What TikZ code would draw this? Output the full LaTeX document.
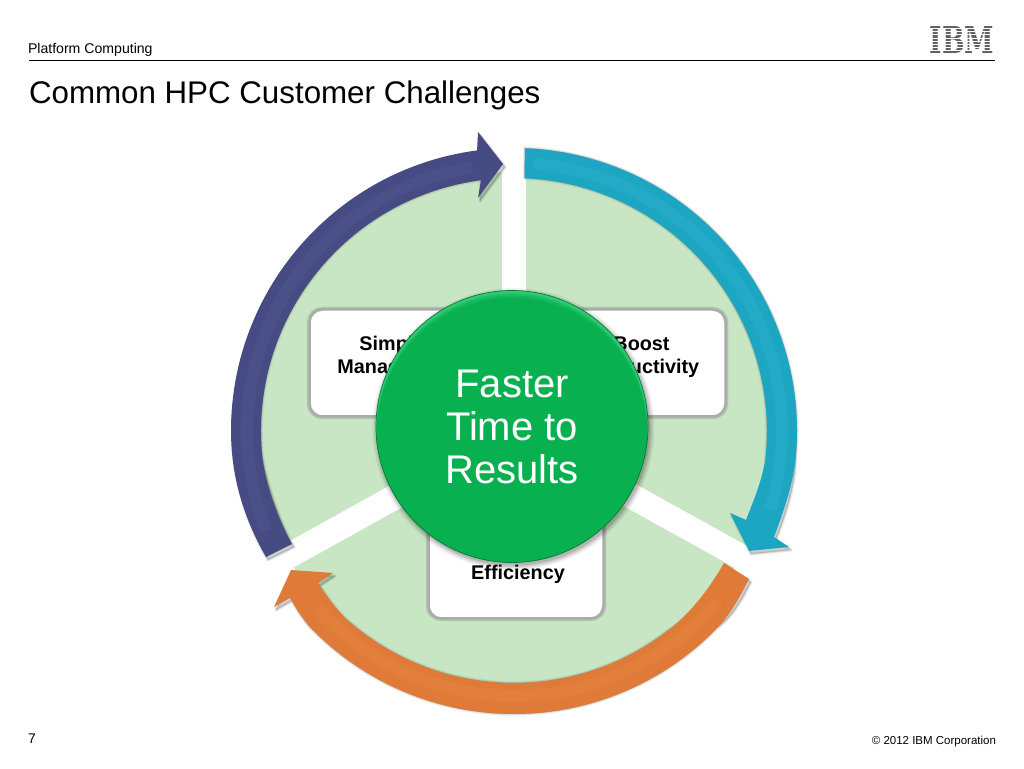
\documentclass[tikz,border=0pt]{standalone}
\usepackage{fontspec}
\usetikzlibrary{calc}
\setmainfont{Liberation Sans}
\newfontfamily\ibmfont{DejaVu Serif}
\definecolor{pie}{HTML}{C8E6C4}
\definecolor{teal1}{HTML}{1CA6C2}
\definecolor{teal2}{HTML}{2CB2CC}
\definecolor{navy1}{HTML}{474B84}
\definecolor{navy2}{HTML}{545991}
\definecolor{orng1}{HTML}{DF7A38}
\definecolor{orng2}{HTML}{E8883F}
\definecolor{hub}{HTML}{08B050}
\definecolor{hubrim}{HTML}{2FCB72}
\newcommand{\fsz}[1]{\fontsize{#1}{#1}\selectfont}
\newcommand{\softshadow}[1]{%
  \foreach \w/\o in {4/.04,2.5/.06,1/.08}{%
    \fill[black,opacity=\o,shift={(2,-3)}] #1;
    \draw[black,opacity=\o,line width=\w pt,line join=round,shift={(2,-3)}] #1;
  }}
\tikzset{
  label text/.style={inner sep=0pt,outer sep=0pt,text=black},
  box text/.style={label text,font=\fsz{19.8}\bfseries,align=center},
  panel/.style={draw=#1,fill=white,rounded corners=13pt,line width=2.5pt,outer sep=0pt,inner sep=0pt,anchor=south west},
  band/.style={line width=12pt,opacity=.4,line cap=butt}
}
\begin{document}
\begin{tikzpicture}[x=1pt,y=1pt]
\useasboundingbox (0,0) rectangle (1024,768);
\fill[white] (0,0) rectangle (1024,768);
\coordinate (C) at (514,337);

% header
\node[label text,anchor=base west,font=\fsz{14.1}] (hdr) at (28,714.5) {Platform Computing};
\node[label text,anchor=base west,font=\fsz{31.3}] (title) at (29,664) {Common HPC Customer Challenges};
\coordinate (ruleL) at (29,707);
\coordinate (ruleR) at (995,707);
\draw[black,line width=1pt] (ruleL) -- (ruleR);
\node[inner sep=0pt,anchor=center,text=black!62,font=\ibmfont\bfseries\fsz{37},xscale=.72] (ibm) at (962,728) {IBM};
\foreach \yy in {717,720.2,723.4,726.6,729.8,733,736.2,739.4}{\draw[white,line width=1pt] (925,\yy) -- (1000,\yy);}

% pie and separators
\fill[pie] (C) circle[radius=259];
\draw[white,line width=24pt] (514,337) -- (514,620);
\draw[white,line width=25pt] (C) -- ++(-29:300);
\draw[white,line width=25pt] (C) -- ++(209:300);

% panels
\foreach \a/\b/\c/\d in {309.5/351.5/479.5/458.5,563/351.5/725.5/458.5,428.5/149.5/603.5/300}{
  \draw[black,opacity=.13,line width=5.5pt,rounded corners=13pt] (\a,\b) rectangle (\c,\d);
}
\node[panel=black!33,minimum width=170pt,minimum height=107pt] (boxL) at (309.5,351.5) {};
\node[panel=black!33,minimum width=162.5pt,minimum height=107pt] (boxR) at (563,351.5) {};
\node[panel=black!33,minimum width=175pt,minimum height=150.5pt] (boxB) at (428.5,149.5) {};
\node[box text,anchor=base] (simp) at (398,417) {Simplify};
\node[box text,anchor=base] (mana) at (398,394) {Management};
\node[box text,anchor=base] (boost) at (641.5,417) {Boost};
\node[box text,anchor=base] (prod) at (642,394) {Productivity};
\node[box text,anchor=base] (effi) at (518,188.5) {Efficiency};

% teal arrow
\def\tealpath{($(C)+(87.8:283)$) arc[start angle=87.8,end angle=-5,radius=283] .. controls (793.5,284.4) and (783.8,257.3) .. (774,231) -- (789,221) -- (749,217) -- (730,255) -- (746,248) .. controls (754.3,269.4) and (764,292) .. ($(C)+(-5:253)$) arc[start angle=-5,end angle=87.6,radius=253] -- cycle}
\softshadow{\tealpath}
\fill[teal1] \tealpath;
\draw[teal2,band] ($(C)+(86:268)$) arc[start angle=86,end angle=-17,radius=268];

% navy arrow
\def\navypath{(266,211) .. controls (243.5,250) and (231,292) .. (231,337) arc[start angle=180,end angle=97.5,radius=283] -- (478,636) -- (503,604) -- (478,570) -- ($(C)+(97.5:253)$) arc[start angle=97.5,end angle=185,radius=253] .. controls (264.6,285) and (279.5,245.7) .. (292,224) -- cycle}
\softshadow{\navypath}
\fill[navy1] \navypath;
\draw[navy2,band] ($(C)+(202:267)$) arc[start angle=202,end angle=99,radius=267];

% orange arrow
\def\orngpath{(749,189) .. controls (740.4,172.1) and (730.8,154.1) .. ($(C)+(-44:283)$) arc[start angle=-44,end angle=-135,radius=283] .. controls (304.3,146.5) and (296.8,158.2) .. (290,170) -- (274,161) -- (291,198) -- (333,195) -- (318,185) .. controls (327.9,170) and (338.2,155.6) .. ($(C)+(-130:252)$) arc[start angle=-130,end angle=-52,radius=252] .. controls (691.9,156.3) and (709.5,179.9) .. (724,205) -- cycle}
\softshadow{\orngpath}
\fill[orng1] \orngpath;
\draw[orng2,band] ($(C)+(-40:265)$) arc[start angle=-40,end angle=-138,radius=265];

% hub
\coordinate (H) at (512,341.5);
\foreach \w/\o in {5/.05,3.5/.07,2/.09,.5/.11}{
  \fill[black,opacity=\o] ($(H)+(1.5,-2.5)$) circle[radius=136+\w];
}
\fill[hubrim] (H) circle[radius=136];
\begin{scope}
  \clip (H) circle[radius=136];
  \fill[hub,opacity=.4] ($(H)+(0,-2)$) circle[radius=135];
  \fill[hub,opacity=.6] ($(H)+(0,-4)$) circle[radius=135];
  \fill[hub] ($(H)+(0,-7)$) circle[radius=135.5];
\end{scope}
\draw[black!30!hub,line width=.7pt] (H) circle[radius=136];
\node[inner sep=0pt,align=center,text=white,font=\fontsize{40}{42.7}\selectfont] (hubtext) at (512,341) {Faster\\Time to\\Results};

% footer
\node[label text,anchor=base west,font=\fsz{14}] (pg) at (28,25) {7};
\node[label text,anchor=base east,font=\fsz{11.5}] (copy) at (996,24) {© 2012 IBM Corporation};
\end{tikzpicture}
\end{document}
